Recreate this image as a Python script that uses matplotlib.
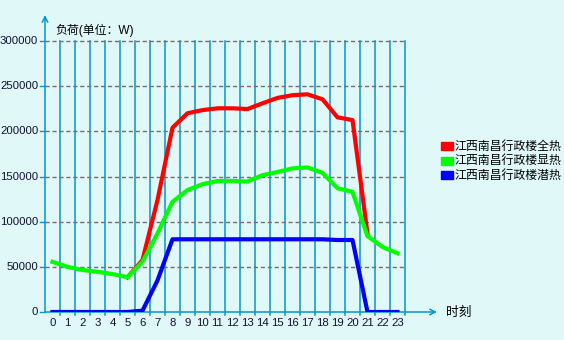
import matplotlib
matplotlib.use('Agg')
import matplotlib.pyplot as plt
from matplotlib.patches import Rectangle

plt.rcParams['font.family'] = ['Liberation Sans', 'Noto Sans CJK SC']

hours = list(range(24))
# total heat load, starts at 5h and ends at 21h
total_hours = list(range(5, 22))
total = [38500, 57500, 124000, 204000, 220000, 223500, 225500, 225500, 224700,
         231000, 237000, 240000, 241000, 235500, 215500, 212500, 87000]
sensible = [55500, 50000, 46500, 44500, 42000, 38500, 55700, 87000, 122000,
            135000, 141500, 145000, 145000, 144500, 151500, 155000, 159000,
            160000, 154000, 137000, 133000, 84000, 72000, 65000]
latent = [0, 0, 0, 0, 0, 0, 1500, 35000, 80500, 80500, 80500, 80500, 80500,
          80500, 80500, 80500, 80500, 80500, 80500, 79700, 79700, 0, 0, 0]
yticks = [0, 50000, 100000, 150000, 200000, 250000, 300000]
names = ['江西南昌行政楼全热', '江西南昌行政楼显热', '江西南昌行政楼潜热']
colors = ['#FF0000', '#00FF00', '#0000FF']

bg = '#E0F8F8'
gridblue = '#0896C8'

W, H = 564, 340
fig = plt.figure(figsize=(W / 100, H / 100), dpi=100, facecolor=bg)
# axes: x -0.5 -> px 45, 15 px per hour; y 0 -> px 312, 271 px per 300000
x0, y0 = 45, 312
xmax = -0.5 + (437 - x0) / 15.0
ymax = (y0 - 15) / 271.0 * 300000
ax = fig.add_axes([x0 / W, (H - y0) / H, (437 - x0) / W, (y0 - 15) / H])
ax.set_facecolor(bg)
ax.patch.set_alpha(0)
ax.set_xlim(-0.5, xmax)
ax.set_ylim(0, ymax)
for s in ax.spines.values():
    s.set_visible(False)

# grid
for k in range(1, 25):
    ax.plot([k - 0.5, k - 0.5], [-3300, 300000], color=gridblue, lw=1.1,
            clip_on=False, zorder=1)
for v in yticks[1:]:
    ax.plot([-0.5, 23.5], [v, v], color='#707070', lw=1.0,
            dashes=(3, 2), zorder=1)
for v in yticks:
    ax.plot([-0.85, -0.5], [v, v], color=gridblue, lw=1.0, clip_on=False)

# axes with arrows
ax.annotate('', xy=(xmax, 0), xytext=(-0.5, 0),
            arrowprops=dict(arrowstyle='->', color=gridblue, lw=1.1,
                            shrinkA=0, shrinkB=0), annotation_clip=False)
ax.annotate('', xy=(-0.5, ymax), xytext=(-0.5, 0),
            arrowprops=dict(arrowstyle='->', color=gridblue, lw=1.1,
                            shrinkA=0, shrinkB=0), annotation_clip=False)

ax.plot(total_hours, total, color=colors[0], lw=3, zorder=3,
        solid_joinstyle='round')
ax.plot(hours, sensible, color=colors[1], lw=3, zorder=4,
        solid_joinstyle='round')
ax.plot(hours, latent, color=colors[2], lw=3, zorder=5,
        solid_joinstyle='round')

ax.set_xticks([])
ax.set_yticks([])
for h in hours:
    ax.text(h, -12000, str(h), ha='center', va='center', fontsize=8.2,
            color='#101030')
for v in yticks:
    ax.text(-0.95, v, str(v), ha='right', va='center', fontsize=8.2,
            color='#101030')

fig.text(55 / W, 1 - 30 / H, '负荷(单位：W)', ha='left', va='center',
         fontsize=8.6, color='#000000')
fig.text(446 / W, 1 - 312 / H, '时刻', ha='left', va='center',
         fontsize=9.2, family='Noto Sans CJK SC', color='#000000')

# legend
for i, (n, c) in enumerate(zip(names, colors)):
    yc = 146 + 14.5 * i
    fig.add_artist(Rectangle((441 / W, 1 - (yc + 4) / H), 12 / W, 8 / H,
                             transform=fig.transFigure, color=c))
    fig.text(455 / W, 1 - yc / H, n, ha='left', va='center', fontsize=8.6,
             family='Noto Sans CJK SC', color='#000000')

fig.savefig('out.png', dpi=100, facecolor=bg)
